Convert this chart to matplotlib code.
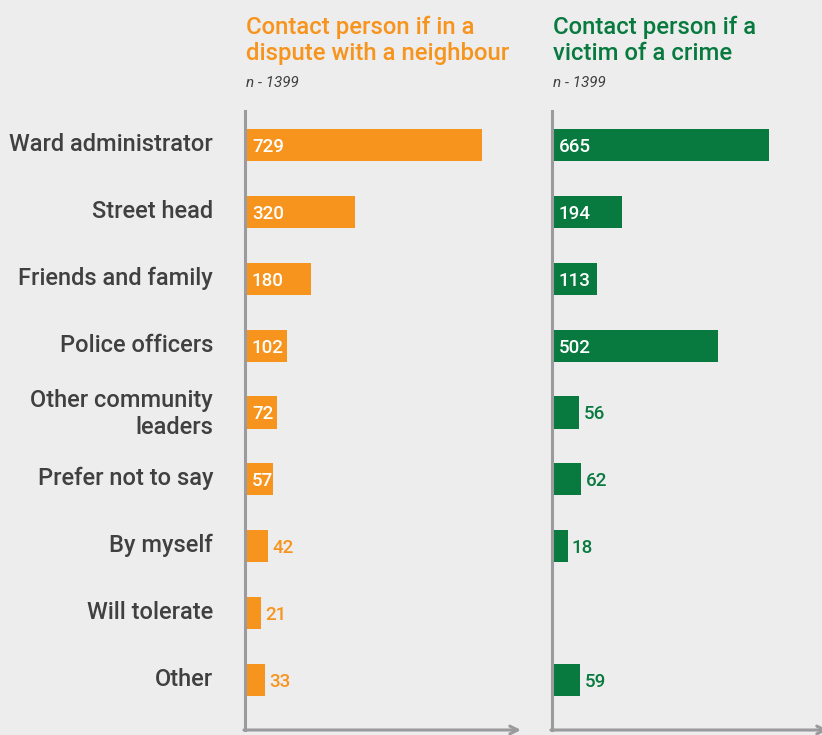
import numpy as np
import matplotlib.pyplot as plt
import matplotlib.transforms as mtransforms

plt.rcParams['font.family'] = ['Roboto', 'DejaVu Sans']

categories = ["Ward administrator", "Street head", "Friends and family", "Police officers",
              "Other community\nleaders", "Prefer not to say", "By myself", "Will tolerate", "Other"]
dispute = [729, 320, 180, 102, 72, 57, 42, 21, 33]
crime = [665, 194, 113, 502, 56, 62, 18, 0, 59]

titles = ["Contact person if in a\ndispute with a neighbour", "Contact person if a\nvictim of a crime"]
n_text = "n - 1399"

ORANGE = "#F7941D"
GREEN = "#087A3F"
BG = "#EDEDED"
AXIS = "#9B9B9D"
TEXT = "#404040"
BASE = -32  # bars start a little before zero, like the original design

W, H = 822, 735
fig = plt.figure(figsize=(W / 100, H / 100), dpi=100, facecolor=BG)


def px_box(x0, x1, ytop, ybot):
    return [x0 / W, (H - ybot) / H, (x1 - x0) / W, (ybot - ytop) / H]


ax1 = fig.add_axes(px_box(245, 521, 111, 730))
ax2 = fig.add_axes(px_box(552, 828, 111, 730))

y = np.arange(len(categories))

for ax, vals, color, title, thresh in [(ax1, dispute, ORANGE, titles[0], 50),
                                       (ax2, crime, GREEN, titles[1], 100)]:
    ax.set_facecolor(BG)
    vals = np.array(vals)
    shown = vals > 0
    ax.barh(y[shown], vals[shown] - BASE, left=BASE, height=0.48, color=color, zorder=1)
    ax.set_xlim(BASE, 855)
    ax.set_ylim(8.75, -0.51)
    for s in ['top', 'right', 'bottom']:
        ax.spines[s].set_visible(False)
    ax.spines['left'].set_color(AXIS)
    ax.spines['left'].set_linewidth(2.2)
    ax.spines['left'].set_zorder(3)
    ax.set_xticks([])
    ax.tick_params(axis='y', length=0)
    # bottom axis with open arrow head
    ax.annotate('', xy=(1.0, 0), xytext=(-0.004, 0), xycoords='axes fraction',
                arrowprops=dict(arrowstyle='->', color=AXIS, lw=2.2,
                                mutation_scale=14, shrinkA=0, shrinkB=0),
                annotation_clip=False)

    for yi, v in zip(y, vals):
        if v == 0:
            continue
        if v >= thresh:
            ax.annotate(str(v), xy=(BASE, yi), xytext=(5, 0), textcoords='offset points',
                        va='center_baseline', ha='left', color='white', fontsize=13.5,
                        fontweight='medium')
        else:
            ax.annotate(str(v), xy=(v, yi), xytext=(3, 0), textcoords='offset points',
                        va='center_baseline', ha='left', color=color, fontsize=13.5,
                        fontweight='medium')

    ax.text(0.002, 1.0 + 51 / 619, title, transform=ax.transAxes, ha='left', va='baseline',
            color=color, fontsize=17.2, fontweight='medium', linespacing=1.17)
    ax.text(0.002, 1.0 + 24 / 619, n_text, transform=ax.transAxes, ha='left', va='baseline',
            color=TEXT, fontsize=11, style='italic')

ax1.set_yticks(y)
ax1.set_yticklabels(categories, fontsize=17, color=TEXT, fontweight='medium',
                    linespacing=1.2)
ax1.tick_params(axis='y', pad=23)
# labels sit a touch above the bar centres in the original
shift = mtransforms.ScaledTranslation(0, 3 / 100, fig.dpi_scale_trans)
for lab in ax1.get_yticklabels():
    lab.set_transform(lab.get_transform() + shift)
ax2.set_yticks([])

fig.savefig("out.png", dpi=100, facecolor=BG)
